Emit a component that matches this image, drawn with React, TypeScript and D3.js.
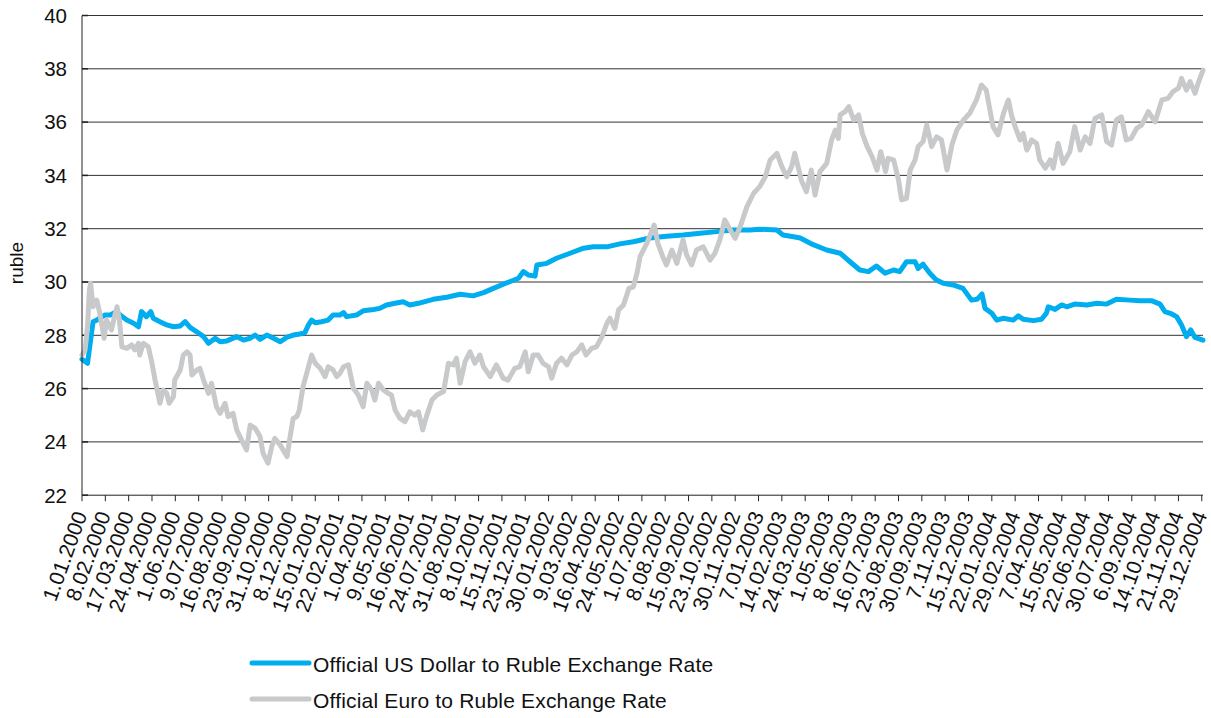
import React from "react";
import * as d3 from "d3";

// y axis ticks (ruble)
const yTicks: number[] = [22, 24, 26, 28, 30, 32, 34, 36, 38, 40];

// x axis tick labels (every 38 days)
const xTickLabels: string[] = [
  "1.01.2000", "8.02.2000", "17.03.2000", "24.04.2000", "1.06.2000", "9.07.2000",
  "16.08.2000", "23.09.2000", "31.10.2000", "8.12.2000", "15.01.2001", "22.02.2001",
  "1.04.2001", "9.05.2001", "16.06.2001", "24.07.2001", "31.08.2001", "8.10.2001",
  "15.11.2001", "23.12.2001", "30.01.2002", "9.03.2002", "16.04.2002", "24.05.2002",
  "1.07.2002", "8.08.2002", "15.09.2002", "23.10.2002", "30.11.2002", "7.01.2003",
  "14.02.2003", "24.03.2003", "1.05.2003", "8.06.2003", "16.07.2003", "23.08.2003",
  "30.09.2003", "7.11.2003", "15.12.2003", "22.01.2004", "29.02.2004", "7.04.2004",
  "15.05.2004", "22.06.2004", "30.07.2004", "6.09.2004", "14.10.2004", "21.11.2004",
  "29.12.2004",
];

const legendLabels: string[] = [
  "Official US Dollar to Ruble Exchange Rate",
  "Official Euro to Ruble Exchange Rate",
];

// [days since 1 Jan 2000, rate]
const usdSeries: [number, number][] = [
  [0, 27.1], [9, 26.95], [18, 28.51], [24, 28.57], [29, 28.64], [37, 28.76], [46, 28.76],
  [57, 28.89], [62, 28.76], [73, 28.57], [84, 28.45], [92, 28.32], [97, 28.89], [105, 28.7],
  [112, 28.89], [116, 28.64], [127, 28.51], [138, 28.39], [149, 28.32], [160, 28.35],
  [168, 28.51], [176, 28.3], [187, 28.13], [198, 27.95], [206, 27.7], [217, 27.89],
  [225, 27.76], [236, 27.79], [252, 27.95], [263, 27.82], [274, 27.89], [282, 28.01],
  [290, 27.85], [301, 28.01], [312, 27.89], [323, 27.76], [333, 27.92], [344, 28.01],
  [355, 28.05], [363, 28.1], [369, 28.39], [374, 28.57], [380, 28.47], [390, 28.51],
  [401, 28.57], [409, 28.76], [420, 28.76], [426, 28.85], [431, 28.7], [447, 28.76],
  [458, 28.92], [475, 28.97], [485, 29.01], [496, 29.14], [510, 29.2], [523, 29.26],
  [534, 29.14], [548, 29.2], [572, 29.35], [594, 29.43], [616, 29.54], [637, 29.48],
  [654, 29.6], [670, 29.76], [692, 29.97], [711, 30.14], [719, 30.39], [727, 30.26],
  [738, 30.22], [741, 30.64], [757, 30.7], [773, 30.89], [795, 31.08], [817, 31.27],
  [833, 31.32], [855, 31.32], [876, 31.43], [898, 31.51], [925, 31.65], [952, 31.72],
  [979, 31.76], [1007, 31.83], [1034, 31.89], [1061, 31.95], [1088, 31.95], [1104, 31.98],
  [1132, 31.95], [1142, 31.76], [1159, 31.7], [1170, 31.65], [1191, 31.4], [1213, 31.2],
  [1235, 31.08], [1251, 30.76], [1267, 30.45], [1281, 30.39], [1294, 30.6], [1308, 30.33],
  [1322, 30.45], [1332, 30.39], [1343, 30.76], [1357, 30.76], [1362, 30.51], [1370, 30.67],
  [1381, 30.33], [1392, 30.07], [1403, 29.95], [1419, 29.89], [1435, 29.76], [1449, 29.32],
  [1458, 29.35], [1466, 29.55], [1471, 29.01], [1482, 28.83], [1490, 28.57], [1501, 28.64],
  [1517, 28.57], [1525, 28.73], [1533, 28.6], [1550, 28.55], [1563, 28.6], [1571, 28.83],
  [1574, 29.07], [1585, 28.97], [1596, 29.14], [1604, 29.07], [1617, 29.17], [1637, 29.14],
  [1653, 29.2], [1669, 29.17], [1685, 29.35], [1707, 29.32], [1723, 29.3], [1742, 29.3],
  [1756, 29.17], [1764, 28.89], [1775, 28.8], [1783, 28.7], [1791, 28.39], [1799, 27.95],
  [1806, 28.2], [1813, 27.92], [1826, 27.82],
];

// [days since 1 Jan 2000, rate]
const eurSeries: [number, number][] = [
  [0, 27.26], [5, 27.45], [9, 28.32], [12, 29.7], [14, 29.95], [18, 29.07], [24, 29.32],
  [29, 28.83], [36, 27.89], [40, 28.57], [48, 28.2], [51, 28.51], [57, 29.07], [61, 28.57],
  [65, 27.57], [73, 27.51], [81, 27.64], [86, 27.45], [92, 27.7], [94, 27.26], [100, 27.7],
  [108, 27.57], [114, 26.95], [119, 26.32], [127, 25.45], [132, 25.95], [138, 25.82],
  [142, 25.45], [149, 25.7], [151, 26.32], [160, 26.7], [165, 27.26], [171, 27.38],
  [176, 27.26], [179, 26.51], [187, 26.7], [192, 26.76], [198, 26.32], [206, 25.82],
  [211, 26.2], [219, 25.32], [225, 25.07], [233, 25.45], [238, 24.95], [246, 25.07],
  [252, 24.45], [260, 24.07], [268, 23.7], [274, 24.63], [282, 24.51], [290, 24.2],
  [295, 23.57], [303, 23.2], [309, 23.82], [314, 24.13], [323, 23.88], [331, 23.57],
  [334, 23.45], [339, 24.2], [344, 24.88], [350, 24.95], [354, 25.2], [360, 26.07],
  [366, 26.57], [374, 27.26], [380, 26.95], [388, 26.76], [396, 26.45], [401, 26.82],
  [409, 26.7], [415, 26.45], [420, 26.57], [426, 26.82], [434, 26.89], [442, 26.01],
  [450, 25.76], [458, 25.32], [464, 26.2], [472, 25.95], [477, 25.57], [483, 26.2],
  [491, 25.95], [499, 25.82], [504, 25.76], [510, 25.2], [518, 24.88], [526, 24.76],
  [534, 25.13], [542, 25.0], [548, 25.13], [555, 24.45], [561, 24.95], [570, 25.57],
  [578, 25.76], [589, 25.89], [597, 26.95], [605, 26.89], [610, 27.14], [616, 26.2],
  [624, 27.01], [632, 27.38], [640, 26.95], [648, 27.26], [654, 26.82], [665, 26.45],
  [675, 26.89], [686, 26.39], [694, 26.32], [705, 26.76], [713, 26.82], [722, 27.38],
  [727, 26.63], [735, 27.26], [743, 27.26], [751, 26.95], [760, 26.82], [765, 26.39],
  [773, 26.95], [781, 27.14], [790, 26.89], [798, 27.26], [806, 27.38], [814, 27.64],
  [821, 27.26], [830, 27.51], [838, 27.57], [847, 27.95], [855, 28.45], [860, 28.64],
  [868, 28.26], [874, 28.95], [882, 29.14], [891, 29.76], [898, 29.82], [904, 30.33],
  [909, 30.95], [920, 31.45], [932, 32.14], [938, 31.45], [947, 30.89], [952, 30.64],
  [961, 31.2], [969, 30.7], [979, 31.58], [985, 31.01], [993, 30.64], [1001, 31.2],
  [1012, 31.32], [1023, 30.82], [1031, 31.08], [1039, 31.58], [1047, 32.33], [1056, 31.95],
  [1064, 31.64], [1072, 32.07], [1083, 32.82], [1094, 33.33], [1104, 33.58], [1113, 33.95],
  [1121, 34.58], [1132, 34.83], [1140, 34.33], [1148, 33.95], [1156, 34.33], [1161, 34.83],
  [1167, 34.27], [1172, 33.8], [1180, 33.39], [1188, 34.2], [1194, 33.26], [1202, 34.14],
  [1213, 34.45], [1221, 35.33], [1227, 35.7], [1232, 35.39], [1235, 36.27], [1243, 36.39],
  [1249, 36.58], [1257, 36.08], [1265, 36.27], [1271, 35.58], [1279, 35.08], [1287, 34.7],
  [1295, 34.2], [1301, 34.89], [1309, 34.14], [1313, 34.64], [1322, 34.58], [1330, 33.83],
  [1335, 33.08], [1343, 33.14], [1349, 34.2], [1357, 34.58], [1362, 35.08], [1370, 35.27],
  [1376, 35.89], [1384, 35.08], [1392, 35.45], [1400, 35.33], [1409, 34.2], [1417, 35.14],
  [1425, 35.7], [1436, 36.08], [1446, 36.33], [1457, 36.83], [1465, 37.39], [1473, 37.2],
  [1479, 36.45], [1484, 35.83], [1492, 35.52], [1501, 36.33], [1509, 36.83], [1514, 36.27],
  [1520, 35.83], [1528, 35.33], [1533, 35.58], [1539, 34.95], [1547, 35.33], [1555, 35.2],
  [1560, 34.58], [1569, 34.27], [1577, 34.58], [1582, 34.27], [1590, 35.2], [1598, 34.45],
  [1609, 34.89], [1617, 35.83], [1626, 34.95], [1634, 35.45], [1642, 35.2], [1650, 36.14],
  [1661, 36.27], [1669, 35.27], [1677, 35.14], [1685, 36.08], [1693, 36.2], [1701, 35.33],
  [1709, 35.39], [1718, 35.77], [1726, 35.89], [1737, 36.39], [1748, 36.01], [1759, 36.83],
  [1769, 36.89], [1777, 37.14], [1786, 37.27], [1791, 37.64], [1799, 37.2], [1805, 37.52],
  [1813, 37.08], [1818, 37.45], [1826, 37.95],
];

const USD_COLOR = "#00adee";
const EUR_COLOR = "#c8c9cb";
const FONT = "'Liberation Sans', Arial, Helvetica, sans-serif";

export default function App() {
  const W = 1211;
  const H = 718;
  const left = 82;
  const right = 1203;
  const top = 15.5;
  const bottom = 495.2;

  const start = new Date(Date.UTC(2000, 0, 1));
  const end = new Date(Date.UTC(2004, 11, 31));
  const x = d3.scaleUtc().domain([start, end]).range([left, right]);
  const y = d3.scaleLinear().domain([22, 40]).range([bottom, top]);
  const parse = d3.utcParse("%d.%m.%Y");
  const toDate = (d: number) => d3.utcDay.offset(start, d);

  const line = d3
    .line<[number, number]>()
    .x((d) => x(toDate(d[0])))
    .y((d) => y(d[1]));

  return (
    <svg
      width={W}
      height={H}
      viewBox={`0 0 ${W} ${H}`}
      style={{ position: "absolute", left: 0, top: 0, display: "block", background: "#fff" }}
      fontFamily={FONT}
    >
      {/* gridlines */}
      {yTicks.slice(1).map((t) => (
        <line key={"g" + t} x1={left} x2={right} y1={y(t)} y2={y(t)} stroke="#333" strokeWidth={1} />
      ))}
      {/* left ticks */}
      {yTicks.map((t) => (
        <line key={"lt" + t} x1={left} x2={left + 6} y1={y(t)} y2={y(t)} stroke="#222" strokeWidth={1.5} />
      ))}
      {/* y tick labels */}
      {yTicks.map((t) => (
        <text key={"yl" + t} x={67} y={y(t)} dy="0.36em" textAnchor="end" fontSize={20.5} fill="#111">
          {t}
        </text>
      ))}
      {/* y axis title */}
      <text
        transform={`translate(23, ${263}) rotate(-90)`}
        textAnchor="middle"
        fontSize={19}
        fill="#111"
      >
        ruble
      </text>

      {/* series */}
      <path d={line(usdSeries) || ""} fill="none" stroke={USD_COLOR} strokeWidth={5} strokeLinejoin="round" strokeLinecap="round" />
      <path d={line(eurSeries) || ""} fill="none" stroke={EUR_COLOR} strokeWidth={5} strokeLinejoin="round" strokeLinecap="round" />

      {/* axes */}
      <line x1={left} x2={left} y1={top} y2={bottom} stroke="#222" strokeWidth={1} />
      <line x1={left} x2={right} y1={bottom} y2={bottom} stroke="#222" strokeWidth={1} />
      {xTickLabels.map((s) => {
        const px = x(parse(s) as Date);
        return (
          <g key={"xt" + s}>
            <line x1={px} x2={px} y1={bottom} y2={bottom + 6} stroke="#222" strokeWidth={1} />
            <text
              transform={`translate(${px - 1.5}, ${bottom + 17}) rotate(-70)`}
              textAnchor="end"
              dy="0.36em"
              fontSize={21}
              fill="#111"
            >
              {s}
            </text>
          </g>
        );
      })}

      {/* legend */}
      {legendLabels.map((s, i) => {
        const ly = 663 + i * 36;
        return (
          <g key={"lg" + i}>
            <line x1={252} x2={309} y1={ly} y2={ly} stroke={i === 0 ? USD_COLOR : EUR_COLOR} strokeWidth={5} strokeLinecap="round" />
            <text x={313} y={ly + 1} dy="0.36em" fontSize={21} letterSpacing={0.18} fill="#111">
              {s}
            </text>
          </g>
        );
      })}
    </svg>
  );
}
